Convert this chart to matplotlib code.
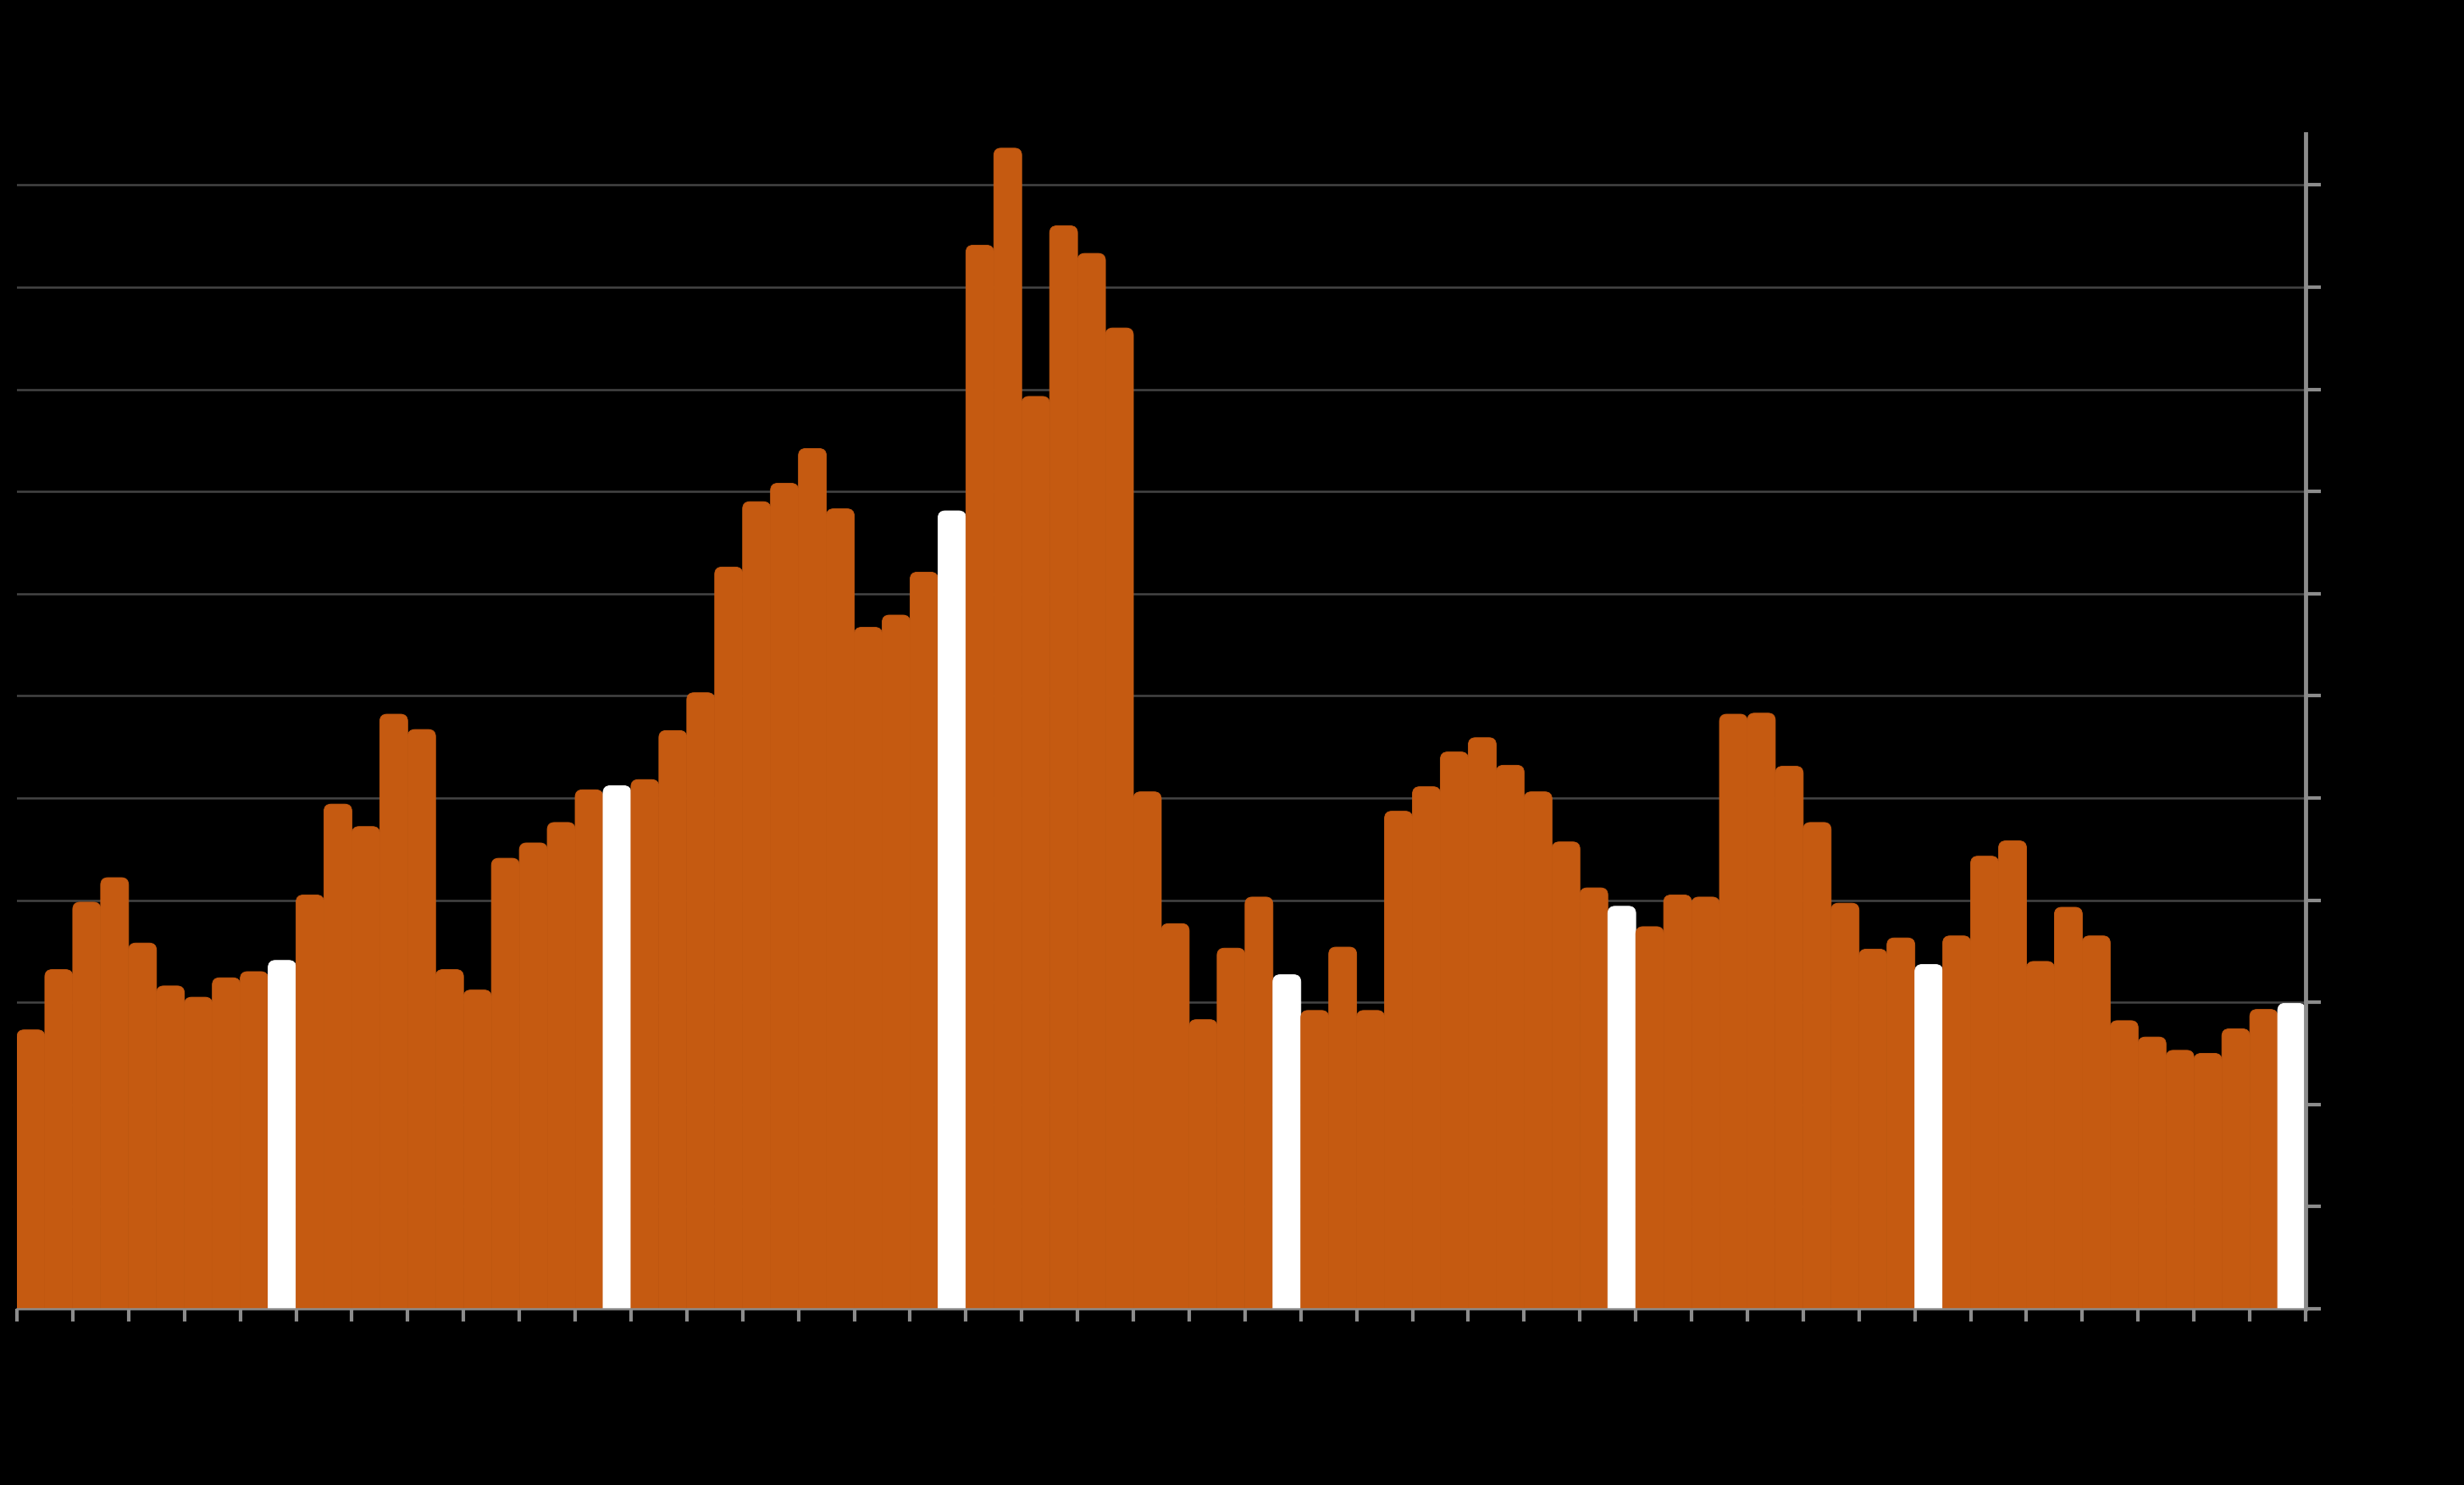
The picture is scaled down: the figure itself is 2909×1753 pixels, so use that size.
import numpy as np
import matplotlib
matplotlib.use("Agg")
import matplotlib.pyplot as plt
from matplotlib.patches import FancyBboxPatch

# Bar values (one per period)
values = [27.3, 33.2, 39.8, 42.2, 35.8, 31.6, 30.5, 32.4, 33.0, 34.1,
          40.5, 49.4, 47.2, 58.2, 56.7, 33.2, 31.2, 44.1, 45.6, 47.6,
          50.8, 51.2, 51.8, 56.6, 60.3, 72.6, 79.0, 80.8, 84.2, 78.3,
          66.7, 67.9, 72.1, 78.1, 104.1, 113.6, 89.3, 106.0, 103.3, 96.0,
          50.6, 37.7, 28.3, 35.3, 40.3, 32.7, 29.2, 35.4, 29.2, 48.7,
          51.1, 54.5, 55.9, 53.2, 50.6, 45.7, 41.2, 39.4, 37.4, 40.5,
          40.3, 58.2, 58.3, 53.1, 47.6, 39.7, 35.2, 36.3, 33.7, 36.5,
          44.3, 45.8, 34.0, 39.3, 36.5, 28.2, 26.6, 25.3, 25.0, 27.4,
          29.3, 29.9]
highlight = [9, 21, 33, 45, 57, 68, 81]
y_ticks = list(range(0, 111, 10))

ORANGE = '#c55a11'
WHITE = '#ffffff'
GRID = '#444444'
AXIS = '#8c8c8c'

fig = plt.figure(figsize=(29.09, 17.53), dpi=100, facecolor='black')
ax = fig.add_axes([20 / 2909, 208 / 1753, 2702 / 2909, 1387 / 1753])
ax.set_facecolor('black')

n = len(values)
ax.set_xlim(0, n)
ax.set_ylim(0, 115)

# x/y pixel ratio so the rounded tops look round
bbox = ax.get_window_extent()
px_x = bbox.width / n
px_y = bbox.height / 115
aspect = px_x / px_y
r = 0.26  # corner radius in x units

x = np.arange(n)
bars = ax.bar(x, values, width=1.0, align='edge', color='none')
for i, b in enumerate(bars):
    col = WHITE if i in highlight else ORANGE
    h = b.get_height()
    patch = FancyBboxPatch((b.get_x(), -3), b.get_width(), h + 3,
                           boxstyle=f"round,pad=0,rounding_size={r}",
                           mutation_aspect=aspect,
                           facecolor=col, edgecolor=col, linewidth=0.6,
                           zorder=2)
    ax.add_patch(patch)
    b.remove()

# grid behind bars
for yv in y_ticks[1:]:
    ax.axhline(yv, color=GRID, linewidth=1.8, zorder=1)

for s in ['left', 'top']:
    ax.spines[s].set_visible(False)
ax.spines['right'].set_color(AXIS)
ax.spines['right'].set_linewidth(3.5)
ax.spines['right'].set_zorder(4)
ax.spines['bottom'].set_color(AXIS)
ax.spines['bottom'].set_linewidth(1.8)
ax.spines['bottom'].set_zorder(4)

ax.yaxis.tick_right()
ax.set_yticks(y_ticks)
ax.set_xticks(np.arange(0, n + 1, 2))
ax.tick_params(axis='y', right=True, left=False, length=13, width=3,
               color=AXIS, labelright=False, labelleft=False)
ax.tick_params(axis='x', bottom=True, length=11, width=3, color=AXIS,
               labelbottom=False)

fig.savefig('out.png', dpi=100, facecolor='black')
